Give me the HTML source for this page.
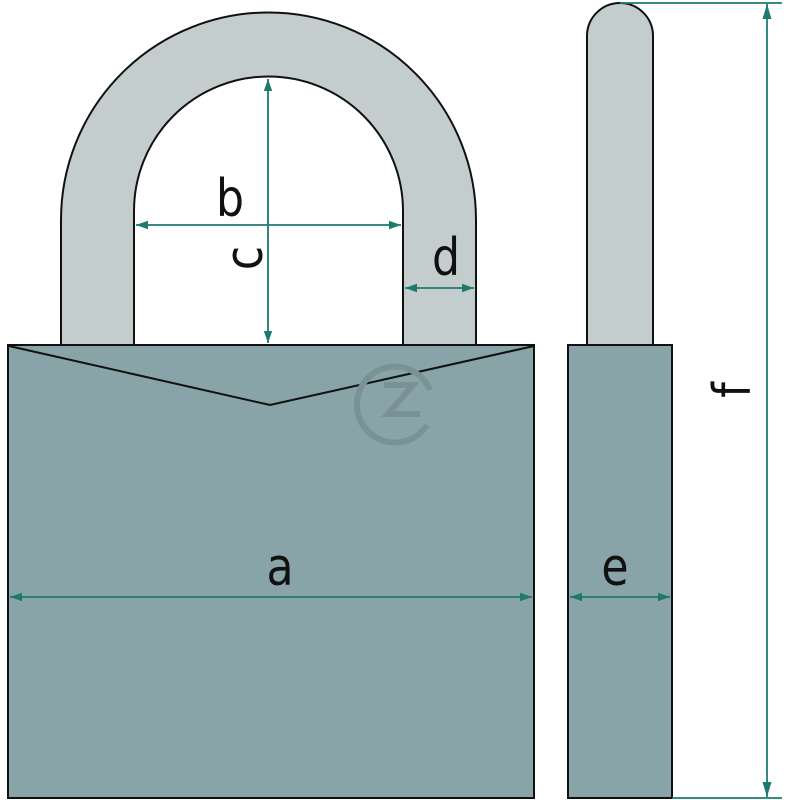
<!DOCTYPE html>
<html><head><style>html,body{margin:0;padding:0;background:#fff}svg{display:block}</style></head>
<body>
<svg width="800" height="800" viewBox="0 0 800 800" xmlns="http://www.w3.org/2000/svg">
<defs>
<marker id="ar" viewBox="0 0 10 10" refX="10" refY="5" markerWidth="12" markerHeight="12" orient="auto-start-reverse" markerUnits="userSpaceOnUse"><path d="M0,1.5 L10,5 L0,8.5 z" fill="#1e7a70"/></marker>
<marker id="ar2" viewBox="0 0 10 10" refX="10" refY="5" markerWidth="15" markerHeight="15" orient="auto-start-reverse" markerUnits="userSpaceOnUse"><path d="M0,2 L10,5 L0,8 z" fill="#1e7a70"/></marker>
</defs>
<path d="M61,346 L61,220 A207.5,207.5 0 0 1 476,220 L476,346 L403,346 L403,211 A134.5,134.5 0 0 0 134,211 L134,346 Z" fill="#c4cdcd" stroke="#111" stroke-width="2"/>
<rect x="8" y="345" width="526" height="453" fill="#88a4a8" stroke="#111" stroke-width="2"/>
<polyline points="9,346 270,405 534,346" fill="none" stroke="#111" stroke-width="2"/>
<g fill="none" stroke="#7a9296" stroke-width="6">
<path d="M427,425 A38,38 0 1 1 430,390"/>
<path d="M384,385 L413,385 L388,414 L420,414"/>
</g>
<path d="M587,346 L587,36 A33,33 0 0 1 653,36 L653,346 Z" fill="#c4cdcd" stroke="#111" stroke-width="2"/>
<rect x="568" y="345" width="104" height="453" fill="#88a4a8" stroke="#111" stroke-width="2"/>
<g stroke="#1e7a70" stroke-width="1.8" fill="none">
<line x1="10" y1="597" x2="532" y2="597" marker-start="url(#ar)" marker-end="url(#ar)"/>
<line x1="570" y1="597" x2="670" y2="597" marker-start="url(#ar)" marker-end="url(#ar)"/>
<line x1="136" y1="225" x2="401" y2="225" marker-start="url(#ar)" marker-end="url(#ar)"/>
<line x1="268" y1="79" x2="268" y2="343" marker-start="url(#ar)" marker-end="url(#ar)"/>
<line x1="405" y1="288" x2="474" y2="288" marker-start="url(#ar)" marker-end="url(#ar)"/>
<line x1="767" y1="4" x2="767" y2="797" marker-start="url(#ar2)" marker-end="url(#ar2)"/>
<line x1="620" y1="3" x2="782" y2="3"/>
<line x1="672" y1="798" x2="782" y2="798"/>
</g>
<g font-family="DejaVu Sans, sans-serif" font-size="52" fill="#111" text-anchor="middle">
<text x="280" y="585" transform="translate(280,0) scale(0.85,1) translate(-280,0)">a</text>
<text x="230" y="216" transform="translate(230,0) scale(0.85,1) translate(-230,0)">b</text>
<text x="446" y="275" transform="translate(446,0) scale(0.85,1) translate(-446,0)">d</text>
<text x="615" y="585" transform="translate(615,0) scale(0.85,1) translate(-615,0)">e</text>
<text transform="translate(262,258) rotate(-90) scale(0.85,1)">c</text>
<text transform="translate(750,390) rotate(-90) scale(0.85,1)">f</text>
</g>
</svg>
</body></html>
